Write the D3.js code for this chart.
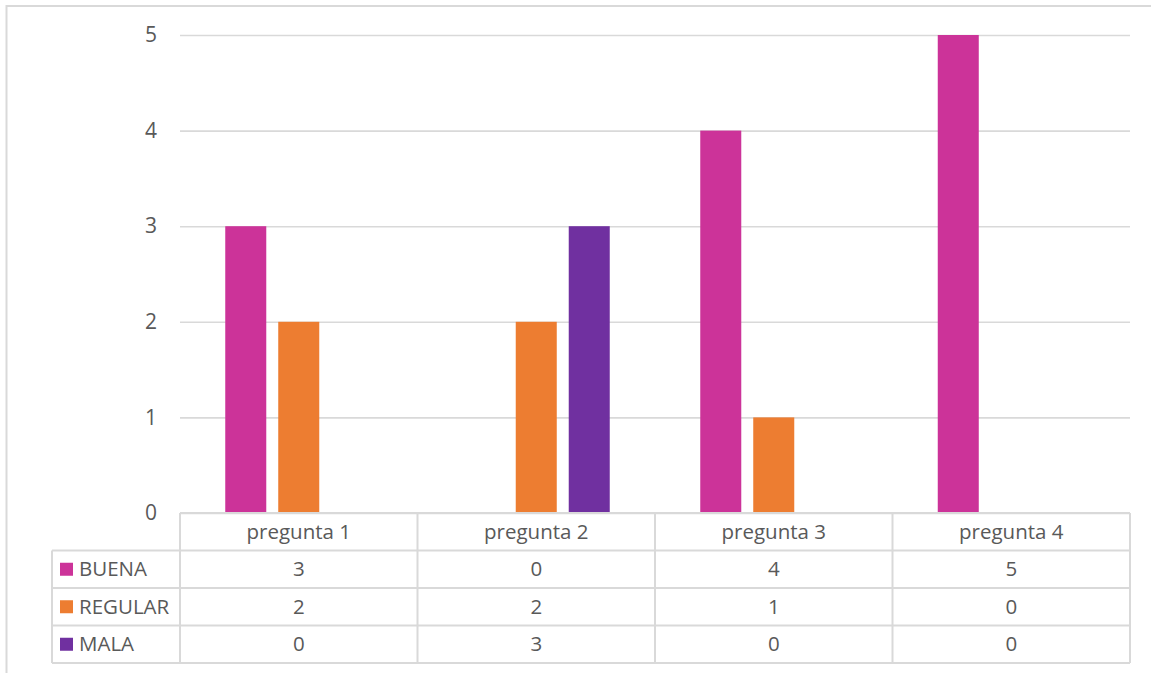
<!DOCTYPE html>
<html>
<head>
<meta charset="utf-8">
<script src="https://cdn.jsdelivr.net/npm/d3@7"></script>
<style>
  body { margin: 0; background: #fff; }
  svg text { font-family: "Open Sans", sans-serif; fill: #595959; }
</style>
</head>
<body>
<script>
// Data
var categories = ['pregunta 1', 'pregunta 2', 'pregunta 3', 'pregunta 4'];
var seriesNames = ['BUENA', 'REGULAR', 'MALA'];
var buena = [3, 0, 4, 5];
var regular = [2, 2, 1, 0];
var mala = [0, 3, 0, 0];
var yTicks = [0, 1, 2, 3, 4, 5];

var seriesValues = [buena, regular, mala];
var colors = ['#cc3399', '#ed7d31', '#7030a0'];

var width = 1151, height = 673;
var plot = {left: 180, right: 1130, top: 35, bottom: 513};
var rowH = 37.5, legendLeft = 52;
var fontSize = '20.5px';

var svg = d3.select('body').append('svg')
    .attr('width', width)
    .attr('height', height);

// Outer chart border
svg.append('rect')
    .attr('x', 6.5).attr('y', 6)
    .attr('width', width + 10).attr('height', height + 10)
    .attr('fill', 'none')
    .attr('stroke', '#d9d9d9')
    .attr('stroke-width', 2);

// Scales
var x = d3.scaleBand().domain(categories).range([plot.left, plot.right]).padding(0);
var xs = d3.scaleBand().domain(seriesNames).range([0, x.bandwidth()])
    .paddingInner(0.226).paddingOuter(0.854);
var y = d3.scaleLinear().domain([0, 5]).range([plot.bottom, plot.top]);

// Gridlines + y labels
var yAxis = d3.axisLeft(y)
    .tickValues(yTicks)
    .tickSize(-(plot.right - plot.left))
    .tickPadding(23)
    .tickFormat(d3.format('d'));

var gy = svg.append('g')
    .attr('transform', 'translate(' + plot.left + ',0)')
    .call(yAxis);
gy.select('.domain').remove();
gy.selectAll('.tick line').attr('stroke', '#d9d9d9').attr('stroke-width', 1.6);
gy.selectAll('.tick text').style('font-size', '21px').attr('fill', '#595959');

// Bars
seriesNames.forEach(function(name, si) {
    svg.append('g').selectAll('rect')
        .data(seriesValues[si])
        .enter()
        .append('rect')
        .attr('x', function(d, i) { return x(categories[i]) + xs(name); })
        .attr('y', function(d) { return y(d); })
        .attr('width', xs.bandwidth())
        .attr('height', function(d) { return y(0) - y(d); })
        .attr('fill', colors[si]);
});

// Data table
var table = svg.append('g');
var lineColor = '#d9d9d9';
var tableBottom = plot.bottom + rowH * (seriesNames.length + 1);

function hline(x1, x2, yy) {
    table.append('line').attr('x1', x1).attr('x2', x2).attr('y1', yy).attr('y2', yy)
        .attr('stroke', lineColor).attr('stroke-width', 2);
}
function vline(xx, y1, y2) {
    table.append('line').attr('x1', xx).attr('x2', xx).attr('y1', y1).attr('y2', y2)
        .attr('stroke', lineColor).attr('stroke-width', 2);
}

// horizontal lines
hline(plot.left, plot.right, plot.bottom);
for (var r = 1; r <= seriesNames.length + 1; r++) {
    hline(legendLeft, plot.right, plot.bottom + rowH * r);
}
// vertical lines
vline(legendLeft, plot.bottom + rowH, tableBottom);
categories.forEach(function(c) { vline(x(c), plot.bottom, tableBottom); });
vline(plot.right, plot.bottom, tableBottom);

// category header
table.selectAll('.cat')
    .data(categories)
    .enter()
    .append('text')
    .attr('x', function(d) { return x(d) + x.bandwidth() / 2; })
    .attr('y', plot.bottom + rowH / 2)
    .attr('dy', '0.35em')
    .attr('text-anchor', 'middle')
    .style('font-size', fontSize)
    .text(function(d) { return d; });

// series rows
seriesNames.forEach(function(name, si) {
    var cy = plot.bottom + rowH * (si + 1) + rowH / 2;
    table.append('rect')
        .attr('x', 60).attr('y', cy - 6.5)
        .attr('width', 13).attr('height', 13)
        .attr('fill', colors[si]);
    table.append('text')
        .attr('x', 79).attr('y', cy).attr('dy', '0.35em')
        .style('font-size', fontSize)
        .text(name);
    table.selectAll('.v' + si)
        .data(seriesValues[si])
        .enter()
        .append('text')
        .attr('x', function(d, i) { return x(categories[i]) + x.bandwidth() / 2; })
        .attr('y', cy).attr('dy', '0.35em')
        .attr('text-anchor', 'middle')
        .style('font-size', fontSize)
        .text(function(d) { return d; });
});
</script>
</body>
</html>
